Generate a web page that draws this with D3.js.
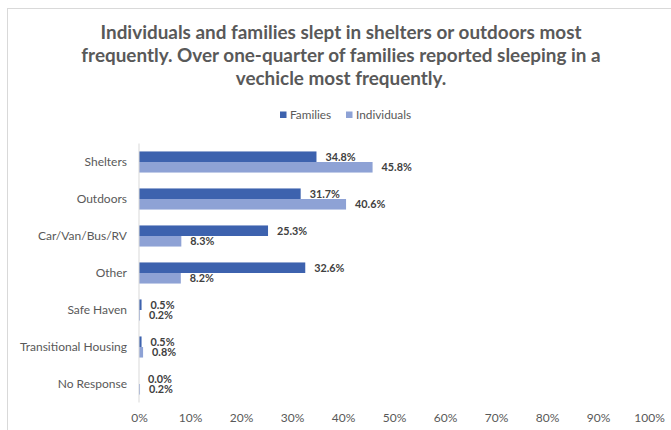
<!DOCTYPE html>
<html>
<head>
<meta charset="utf-8">
<script src="https://cdn.jsdelivr.net/npm/d3@7"></script>
<style>
  html, body { margin: 0; padding: 0; background: #fff; }
  svg { display: block; }
</style>
</head>
<body>
<svg id="chart" width="671" height="430"></svg>
<script>
// Where people slept most frequently, by household type
const categories = ["Shelters", "Outdoors", "Car/Van/Bus/RV", "Other", "Safe Haven", "Transitional Housing", "No Response"];
const families = [34.8, 31.7, 25.3, 32.6, 0.5, 0.5, 0.0];
const individuals = [45.8, 40.6, 8.3, 8.2, 0.2, 0.8, 0.2];
const seriesNames = ["Families", "Individuals"];
const seriesColors = ["#3D62AE", "#8EA2D5"];
const tickValues = [0, 10, 20, 30, 40, 50, 60, 70, 80, 90, 100];
const titleLines = [
  "Individuals and families slept in shelters or outdoors most",
  "frequently. Over one-quarter of families reported sleeping in a",
  "vechicle most frequently."
];

const font = "Lato, 'Open Sans', sans-serif";
const svg = d3.select("#chart");

// chart frame
svg.append("rect")
  .attr("x", 7.5).attr("y", 8.5)
  .attr("width", 680).attr("height", 440)
  .attr("fill", "#fff").attr("stroke", "#d9d9d9").attr("stroke-width", 1);

// title
svg.append("text")
  .attr("font-family", font).attr("font-weight", "bold")
  .attr("font-size", 18.9).attr("fill", "#595959")
  .attr("text-anchor", "middle")
  .selectAll("tspan").data(titleLines).join("tspan")
  .attr("x", 341).attr("y", (d, i) => 38.5 + i * 23)
  .text(d => d);

// scales
const x = d3.scaleLinear().domain([0, 100]).range([139, 649]);
const y = d3.scaleBand().domain(categories).range([143.5, 402.5]).paddingInner(0.43).paddingOuter(0.215);
const sub = d3.scaleBand().domain(seriesNames).range([0, y.bandwidth()]);

// legend
const legend = svg.append("g").attr("font-family", font).attr("font-size", 11.8).attr("fill", "#595959");
const legendX = [280, 346];
seriesNames.forEach((name, i) => {
  legend.append("rect").attr("x", legendX[i]).attr("y", 111.5).attr("width", 6.5).attr("height", 6.5).attr("fill", seriesColors[i]);
  legend.append("text").attr("x", legendX[i] + 10).attr("y", 119).text(name);
});

// bars
const rows = categories.map((c, i) => ({ c, values: [families[i], individuals[i]] }));
const groups = svg.append("g").selectAll("g").data(rows).join("g")
  .attr("transform", d => `translate(0,${y(d.c)})`);

groups.selectAll("rect").data(d => d.values.map((v, j) => ({ v, s: seriesNames[j], j })))
  .join("rect")
  .attr("x", x(0))
  .attr("y", d => sub(d.s))
  .attr("width", d => x(d.v) - x(0))
  .attr("height", sub.bandwidth())
  .attr("fill", d => seriesColors[d.j]);

// value labels
groups.selectAll("text").data(d => d.values.map((v, j) => ({ v, s: seriesNames[j], j })))
  .join("text")
  .attr("x", d => x(d.v) + 9)
  .attr("y", d => sub(d.s) + sub.bandwidth() / 2)
  .attr("dy", "0.35em")
  .attr("font-family", font).attr("font-weight", "bold")
  .attr("font-size", 10.8).attr("fill", "#404040")
  .text(d => d.v.toFixed(1) + "%");

// category axis
const yAxis = svg.append("g").attr("transform", `translate(${x(0)},0)`)
  .call(d3.axisLeft(y).tickSize(0).tickPadding(12));
yAxis.select(".domain").attr("stroke", "#d9d9d9").attr("d", "M0,143.5V402.5");
yAxis.selectAll("text").attr("font-family", font).attr("font-size", 12).attr("fill", "#595959");

// value axis (labels only)
const xAxis = svg.append("g").attr("transform", "translate(0,405)")
  .call(d3.axisBottom(x).tickValues(tickValues).tickFormat(d => d + "%").tickSize(0).tickPadding(8));
xAxis.select(".domain").remove();
xAxis.selectAll("text").attr("font-family", font).attr("font-size", 12).attr("fill", "#595959");
</script>
</body>
</html>
